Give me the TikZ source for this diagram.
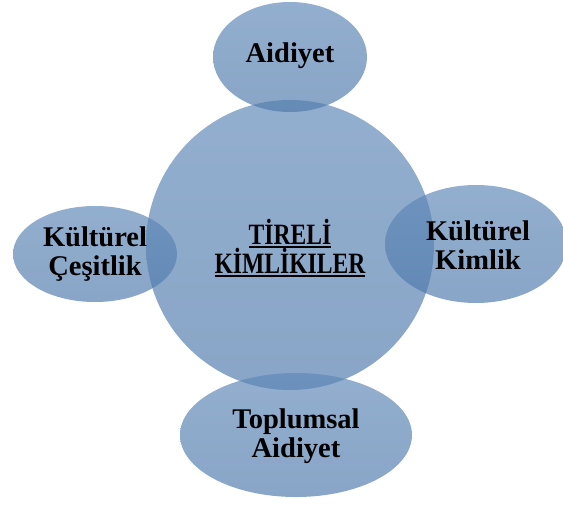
\documentclass[tikz,border=0pt]{standalone}
\usepackage{fontspec}
\setmainfont{Liberation Serif}
\newfontfamily\narrowserif[FakeStretch=0.8]{Liberation Serif}
\usetikzlibrary{shapes.geometric}
\definecolor{bubbletop}{RGB}{96,136,184}
\definecolor{bubblebot}{RGB}{80,122,172}
\tikzset{
  bubble/.style={ellipse, inner sep=0pt, top color=bubbletop, bottom color=bubblebot,
    fill opacity=0.68, draw=none},
  label/.style={font=\bfseries\fontsize{28.5}{29}\selectfont, align=center, inner sep=0pt},
}
\begin{document}
\begin{tikzpicture}[x=1pt,y=-1pt]
\useasboundingbox (0,0) rectangle (563,507);
\begin{scope}
\clip (0,0) rectangle (563,507);
\node[bubble, minimum width=288pt, minimum height=290pt] (center) at (290,245) {};
\node[bubble, minimum width=154pt, minimum height=110pt] (top) at (290,57) {};
\node[bubble, minimum width=164pt, minimum height=96pt] (left) at (95,254) {};
\node[bubble, minimum width=182pt, minimum height=118pt] (right) at (476,244) {};
\node[bubble, minimum width=232pt, minimum height=124pt] (bottom) at (296,435) {};
\end{scope}
\node[font=\narrowserif\bfseries\fontsize{29.5}{30}\selectfont, align=center, inner sep=0pt] (centertext) at (290,248) {\vtop{\hbox{TİRELİ}\kern2pt\hrule height 1.6pt}\\[-1pt]\vtop{\hbox{KİMLİKILER}\kern2pt\hrule height 1.6pt}};
\node[label] (toptext) at (290,56) {Aidiyet};
\node[label] (lefttext) at (95,254) {Kültürel\\Çeşitlik};
\node[label] (righttext) at (478,245) {Kültürel\\Kimlik};
\node[label] (bottomtext) at (296,436) {Toplumsal\\Aidiyet};
\end{tikzpicture}
\end{document}
